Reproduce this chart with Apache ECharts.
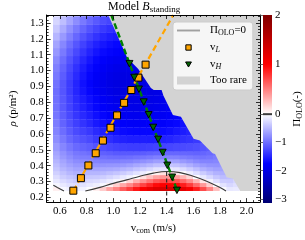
<!DOCTYPE html>
<html><head><meta charset="utf-8">
<script src="https://cdn.jsdelivr.net/npm/echarts@6/dist/echarts.min.js"></script>
<style>html,body{margin:0;padding:0;background:#fff}#c{width:305px;height:240px}</style>
</head><body><div id="c"></div>
<script>
// ---------- data ----------
const vcom = [0.575,0.625,0.675,0.725,0.775,0.825,0.875,0.925,0.975,1.025,1.075,1.125,1.175,1.225,1.275,1.325,1.375,1.425,1.475,1.525,1.575,1.625,1.675,1.725,1.775,1.825,1.875,1.925,1.975,2.025,2.075];
// row edges in rho (finer rows near the Pi=0 line)
const rhoEdges = [0.24,0.265,0.29,0.315,0.34,0.365,0.39,0.415,0.44,0.465,0.49,0.54,0.59,0.64,0.69,0.74,0.79,0.84,0.89,0.94,0.99,1.04,1.09,1.14,1.19,1.24,1.29,1.34,1.39];
// Pi_OLO per rho row (bottom to top); cells beyond a row's end are "too rare"
const piOLO = [
 [0.06,-0.05,-0.10,-0.13,-0.09,-0.03,0.06,0.20,0.36,0.49,0.64,0.77,0.91,1.03,1.15,1.26,1.32,1.32,1.28,1.19,1.06,0.89,0.70,0.49,0.25,-0.02,-0.16,-0.14,-0.01],
 [-0.06,-0.15,-0.21,-0.24,-0.20,-0.15,-0.11,-0.05,0.06,0.19,0.34,0.47,0.61,0.73,0.85,0.96,1.02,1.02,0.98,0.89,0.76,0.59,0.40,0.19,-0.03,-0.19,-0.27,-0.22],
 [-0.16,-0.25,-0.31,-0.35,-0.31,-0.26,-0.24,-0.19,-0.13,-0.06,0.04,0.17,0.31,0.43,0.55,0.66,0.72,0.72,0.68,0.59,0.46,0.29,0.10,-0.08,-0.22,-0.34,-0.36,-0.29],
 [-0.24,-0.34,-0.40,-0.44,-0.42,-0.38,-0.37,-0.34,-0.29,-0.23,-0.16,-0.09,0.00,0.12,0.25,0.36,0.42,0.42,0.38,0.29,0.16,-0.01,-0.15,-0.27,-0.39,-0.46,-0.44],
 [-0.32,-0.42,-0.49,-0.54,-0.52,-0.50,-0.50,-0.48,-0.44,-0.40,-0.35,-0.28,-0.20,-0.13,-0.04,0.06,0.12,0.12,0.08,-0.01,-0.12,-0.23,-0.35,-0.45,-0.53,-0.55],
 [-0.39,-0.50,-0.57,-0.63,-0.62,-0.60,-0.62,-0.61,-0.59,-0.57,-0.52,-0.48,-0.41,-0.35,-0.27,-0.20,-0.16,-0.16,-0.18,-0.25,-0.34,-0.44,-0.54,-0.61,-0.65,-0.64],
 [-0.45,-0.57,-0.65,-0.71,-0.71,-0.71,-0.74,-0.74,-0.73,-0.72,-0.70,-0.66,-0.61,-0.56,-0.50,-0.44,-0.40,-0.40,-0.42,-0.48,-0.56,-0.64,-0.70,-0.74,-0.75,-0.71],
 [-0.51,-0.63,-0.72,-0.79,-0.80,-0.81,-0.85,-0.87,-0.87,-0.87,-0.85,-0.84,-0.80,-0.76,-0.72,-0.67,-0.64,-0.64,-0.65,-0.70,-0.75,-0.81,-0.85,-0.85,-0.83],
 [-0.57,-0.70,-0.79,-0.87,-0.89,-0.90,-0.95,-0.98,-1.00,-1.01,-1.01,-0.99,-0.97,-0.95,-0.92,-0.88,-0.86,-0.85,-0.86,-0.89,-0.92,-0.95,-0.96,-0.94,-0.90],
 [-0.62,-0.75,-0.85,-0.93,-0.96,-0.99,-1.05,-1.09,-1.11,-1.14,-1.14,-1.14,-1.13,-1.12,-1.09,-1.07,-1.05,-1.04,-1.04,-1.05,-1.06,-1.07,-1.06,-1.02,-0.97],
 [-0.69,-0.83,-0.94,-1.03,-1.07,-1.11,-1.18,-1.23,-1.27,-1.30,-1.32,-1.33,-1.33,-1.33,-1.32,-1.30,-1.29,-1.27,-1.25,-1.24,-1.23,-1.21,-1.17,-1.12],
 [-0.77,-0.92,-1.05,-1.14,-1.19,-1.25,-1.34,-1.40,-1.44,-1.49,-1.52,-1.54,-1.54,-1.54,-1.55,-1.54,-1.52,-1.50,-1.46,-1.43,-1.40,-1.36,-1.30],
 [-0.84,-1.00,-1.13,-1.24,-1.31,-1.37,-1.46,-1.54,-1.60,-1.65,-1.68,-1.70,-1.71,-1.71,-1.71,-1.69,-1.68,-1.65,-1.60,-1.56,-1.51],
 [-0.90,-1.07,-1.20,-1.32,-1.40,-1.48,-1.58,-1.65,-1.72,-1.77,-1.80,-1.82,-1.83,-1.83,-1.82,-1.81,-1.78,-1.75,-1.70,-1.65,-1.60],
 [-0.94,-1.11,-1.25,-1.38,-1.47,-1.55,-1.65,-1.73,-1.80,-1.85,-1.89,-1.90,-1.91,-1.91,-1.91,-1.88,-1.86,-1.82,-1.77,-1.71],
 [-0.97,-1.14,-1.29,-1.42,-1.52,-1.62,-1.72,-1.80,-1.86,-1.91,-1.95,-1.96,-1.97,-1.96,-1.95,-1.94,-1.90,-1.86],
 [-0.98,-1.15,-1.31,-1.45,-1.55,-1.65,-1.75,-1.84,-1.90,-1.95,-1.99,-2.00,-2.00,-1.99,-1.98,-1.96,-1.93,-1.88],
 [-0.99,-1.17,-1.34,-1.49,-1.61,-1.72,-1.82,-1.91,-1.97,-2.02,-2.05,-2.06,-2.06,-2.04,-2.02,-2.00,-1.96],
 [-0.96,-1.16,-1.34,-1.50,-1.64,-1.76,-1.86,-1.94,-2.00,-2.04,-2.06,-2.06,-2.05,-2.03,-2.01],
 [-0.92,-1.12,-1.30,-1.46,-1.60,-1.72,-1.82,-1.90,-1.96,-2.00,-2.02,-2.02,-2.01,-1.99],
 [-0.87,-1.07,-1.25,-1.41,-1.55,-1.67,-1.77,-1.85,-1.91,-1.95,-1.97,-1.97,-1.96,-1.94],
 [-0.80,-1.00,-1.18,-1.34,-1.48,-1.60,-1.70,-1.78,-1.84,-1.88,-1.90,-1.90,-1.89],
 [-0.71,-0.91,-1.09,-1.25,-1.39,-1.51,-1.61,-1.69,-1.75,-1.79,-1.81],
 [-0.62,-0.82,-1.00,-1.16,-1.30,-1.42,-1.52,-1.60,-1.66,-1.70,-1.72],
 [-0.50,-0.70,-0.88,-1.04,-1.18,-1.30,-1.40,-1.48,-1.54,-1.58],
 [-0.38,-0.58,-0.76,-0.92,-1.06,-1.18,-1.28,-1.36,-1.42,-1.46],
 [-0.28,-0.45,-0.62,-0.78,-0.92,-1.04,-1.14,-1.22,-1.28],
 [-0.15,-0.32,-0.48,-0.63,-0.77,-0.89,-0.99,-1.07,-1.12]
];
const rareV   = [0.962,1.057,1.104,1.187,1.282,1.303,1.362,1.376,1.447,1.507,1.602,1.649,1.744,1.763,1.850,1.898,1.952,2.1,2.1];
const rareRho = [1.35,1.171,1.080,1.010,0.889,0.877,0.877,0.840,0.720,0.709,0.569,0.558,0.478,0.474,0.327,0.317,0.240,0.240,1.35];
const vL   = [0.700,0.757,0.813,0.868,0.922,0.979,1.028,1.081,1.135,1.188,1.242];
const rhoL = [0.242,0.321,0.401,0.478,0.558,0.639,0.717,0.796,0.877,0.955,1.037];
const vH   = [1.121,1.157,1.192,1.228,1.265,1.299,1.336,1.370,1.405,1.441,1.477];
const rhoH = [1.043,0.956,0.882,0.801,0.721,0.641,0.566,0.483,0.402,0.327,0.244];
const fitLV = [0.70,1.45], fitLRho = [0.24,1.35];
const fitHV = [0.985,1.48], fitHRho = [1.35,0.24];
const zeroV   = [0.79,0.9,1.0,1.1,1.2,1.3,1.4,1.5,1.6,1.7,1.8,1.845];
const zeroRho = [0.24,0.263,0.288,0.31,0.333,0.353,0.363,0.356,0.333,0.302,0.262,0.24];
const zeroLV = [0.55,0.58,0.63], zeroLRho = [0.276,0.262,0.24];
const markV = [1.4,1.4], markRho = [0.17,0.36];
const xTicks = [0.6,0.8,1.0,1.2,1.4,1.6,1.8,2.0];
const yTicks = [0.2,0.3,0.4,0.5,0.6,0.7,0.8,0.9,1.0,1.1,1.2,1.3];
const cbarTicks = [-3,-2,-1,0,1,2];

// ---------- styling helpers ----------
const FONT = 'Liberation Serif';
const VMIN = -3.5, VMAX = 2, CB_LOW = -3.14;
function norm(v){ return v < 0 ? 0.5 + 0.5 * v / (-VMIN) : 0.5 + 0.5 * v / VMAX; }
function seismic(n){
  n = Math.max(0, Math.min(1, n)); let r, g, b;
  if (n < 0.25) { r = 0; g = 0; b = 0.3 + 0.7 * n / 0.25; }
  else if (n < 0.5) { const t = (n - 0.25) / 0.25; r = t; g = t; b = 1; }
  else if (n < 0.75) { const t = (n - 0.5) / 0.25; r = 1; g = 1 - t; b = 1 - t; }
  else { const t = (n - 0.75) / 0.25; r = 1 - 0.5 * t; g = 0; b = 0; }
  return 'rgb(' + Math.round(r*255) + ',' + Math.round(g*255) + ',' + Math.round(b*255) + ')';
}
const colorOf = v => seismic(norm(v));
const cmap = []; for (let k = 0; k <= 55; k++) cmap.push(colorOf(VMIN + k * 0.1));
const CB_NEG = 28.33, CB_POS = 49.65;
const cbPos = v => v < 0 ? v * CB_NEG : v * CB_POS;
const PMIN = cbPos(CB_LOW), PMAX = cbPos(VMAX);
const cbStops = [];
for (let v = CB_LOW; v <= VMAX + 1e-9; v += 0.05) cbStops.push({offset: (cbPos(v) - PMIN) / (PMAX - PMIN), color: colorOf(v)});
const xMinor = [], yMinor = [];
for (let k = 11; k <= 41; k++) { if (k % 4 !== 0) xMinor.push(k * 0.05); }
for (let k = 9; k <= 67; k++) { if (k % 5 !== 0) yMinor.push(k * 0.02); }

const cells = [];
piOLO.forEach((row, j) => row.forEach((val, i) => cells.push([vcom[i], rhoEdges[j], rhoEdges[j + 1], val])));
const halfV = (vcom[1] - vcom[0]) / 2;
const pts = (xs, ys) => xs.map((x, i) => [x, ys[i]]);

const black = '#000';
const sub = {fontSize: 8, lineHeight: 8, padding: [5,0,0,0], fontFamily: FONT, color: black};
const subI = Object.assign({}, sub, {fontStyle: 'italic'});
const nrm = {fontSize: 11, lineHeight: 13, fontFamily: FONT, color: black};
const ita = Object.assign({}, nrm, {fontStyle: 'italic'});

function frameAxis(base) {
  return Object.assign({type: 'value', z: 10, splitLine: {show: false},
    axisLine: {show: true, onZero: false, lineStyle: {color: black, width: 1}},
    axisLabel: {show: false}}, base);
}
const tick = (vals, len) => ({show: true, inside: true, length: len, customValues: vals, lineStyle: {color: black, width: 0.8}});

const chart = echarts.init(document.getElementById('c'), null, {renderer: 'canvas'});
chart.setOption({
  animation: false,
  textStyle: {fontFamily: FONT, color: black},
  title: {text: '{n|Model }{i|B}{s|standing}', left: 108, top: 0, padding: 0,
    textStyle: {fontWeight: 'normal', rich: {
      n: {fontSize: 12, lineHeight: 14, fontFamily: FONT, color: black},
      i: {fontSize: 12, lineHeight: 14, fontStyle: 'italic', fontFamily: FONT, color: black},
      s: {fontSize: 9, lineHeight: 9, padding: [5,0,0,0], fontFamily: FONT, color: black}}}},
  grid: [{left: 35, right: 45, top: 15, bottom: 29}, {left: 263, top: 15, width: 11, height: 188}],
  legend: {
    orient: 'vertical', left: 173, top: 22, padding: [2,6,4,4], itemGap: 4,
    itemWidth: 23, itemHeight: 8, selectedMode: false,
    backgroundColor: 'rgba(255,255,255,0.8)', borderColor: '#cccccc', borderWidth: 1, borderRadius: 3,
    textStyle: {fontSize: 11, fontFamily: FONT, color: black, padding: [0,0,0,5], rich: {n: nrm, s: sub, si: subI}},
    formatter: name => ({'Π_OLO=0': '{n|Π}{s|OLO}{n|=0}', 'v_L': '{n|v}{si|L}', 'v_H': '{n|v}{si|H}', 'Too rare': '{n|Too rare}'})[name],
    data: [
      {name: 'Π_OLO=0', icon: 'path://M0,0H24V2H0Z', itemStyle: {color: '#a0a0a0', borderWidth: 0}},
      {name: 'v_L', icon: 'path://M-2.5,-2.5M0,0H10V10H0ZM12.5,12.5', itemStyle: {color: '#ffa500', borderColor: black, borderWidth: 1}},
      {name: 'v_H', icon: 'path://M-2.5,-2.5M0,0H10L5,8.7ZM12.5,11.2', itemStyle: {color: '#006400', borderColor: black, borderWidth: 1}},
      {name: 'Too rare', icon: 'rect', itemStyle: {color: '#d3d3d3', borderWidth: 0}}
    ]
  },
  visualMap: {type: 'continuous', show: false, seriesIndex: 0, dimension: 3, min: VMIN, max: VMAX, inRange: {color: cmap}},
  xAxis: [
    frameAxis({gridIndex: 0, position: 'bottom', min: 0.5, max: 2.1, axisTick: tick(xTicks, 4),
      axisLabel: {show: true, customValues: xTicks, formatter: v => v.toFixed(1), margin: 4, fontSize: 11, fontFamily: FONT, color: black},
      name: '{n|v}{s|com}{n| (m/s)}', nameLocation: 'middle', nameGap: 15,
      nameTextStyle: {rich: {n: nrm, s: sub}}}),
    frameAxis({gridIndex: 0, position: 'top', min: 0.5, max: 2.1, axisTick: tick(xTicks, 4)}),
    frameAxis({gridIndex: 0, position: 'bottom', min: 0.5, max: 2.1, axisLine: {show: false, onZero: false}, axisTick: tick(xMinor, 2)}),
    frameAxis({gridIndex: 0, position: 'top', min: 0.5, max: 2.1, axisLine: {show: false, onZero: false}, axisTick: tick(xMinor, 2)}),
    {type: 'value', gridIndex: 1, min: 0, max: 1, show: false}
  ],
  yAxis: [
    frameAxis({gridIndex: 0, position: 'left', min: 0.17, max: 1.35, axisTick: tick(yTicks, 4),
      axisLabel: {show: true, customValues: yTicks, formatter: v => v.toFixed(1), margin: 3, fontSize: 11, fontFamily: FONT, color: black},
      name: '{i|ρ}{n| (p/m²)}', nameLocation: 'middle', nameRotate: 90, nameGap: 21,
      nameTextStyle: {rich: {n: nrm, i: ita}}}),
    frameAxis({gridIndex: 0, position: 'right', min: 0.17, max: 1.35, axisTick: tick(yTicks, 4)}),
    frameAxis({gridIndex: 0, position: 'left', min: 0.17, max: 1.35, axisLine: {show: false, onZero: false}, axisTick: tick(yMinor, 2)}),
    frameAxis({gridIndex: 0, position: 'right', min: 0.17, max: 1.35, axisLine: {show: false, onZero: false}, axisTick: tick(yMinor, 2)}),
    {type: 'value', gridIndex: 1, position: 'right', min: PMIN, max: PMAX, z: 10, splitLine: {show: false},
      axisLine: {show: false},
      axisTick: {show: true, inside: true, length: 3, customValues: cbarTicks.map(cbPos), lineStyle: {color: '#444', width: 0.8}},
      axisLabel: {show: true, customValues: cbarTicks.map(cbPos), margin: 3, fontSize: 11, fontFamily: FONT, color: black,
        formatter: p => { const v = Math.round(p < 0 ? p / CB_NEG : p / CB_POS); return v < 0 ? '\u2212' + (-v) : String(v); }},
      name: '{n|Π}{s|OLO}{n|(-)}', nameLocation: 'middle', nameRotate: 90, nameGap: 19,
      nameTextStyle: {rich: {n: nrm, s: sub}}}
  ],
  series: [
    {type: 'custom', name: 'field', xAxisIndex: 0, yAxisIndex: 0, clip: true, silent: true, z: 1,
      data: cells,
      renderItem: (params, api) => {
        const v = api.value(0);
        const p0 = api.coord([v - halfV, api.value(2)]);
        const p1 = api.coord([v + halfV, api.value(1)]);
        return {type: 'rect', shape: {x: p0[0] - 0.3, y: p0[1] - 0.3, width: p1[0] - p0[0] + 0.6, height: p1[1] - p0[1] + 0.3},
          style: {fill: api.visual('color')}};
      }},
    {type: 'custom', name: 'Too rare', xAxisIndex: 0, yAxisIndex: 0, clip: true, silent: true, z: 2,
      itemStyle: {color: '#d3d3d3'},
      data: pts(rareV, rareRho),
      renderItem: (params, api) => {
        if (params.dataIndex !== 0) return null;
        return {type: 'polygon', shape: {points: pts(rareV, rareRho).map(p => api.coord(p))}, style: {fill: '#d3d3d3'}};
      }},
    {type: 'line', name: 'Π_OLO=0', data: pts(zeroV, zeroRho), smooth: 0.4, symbol: 'none', silent: true, z: 3,
      lineStyle: {color: '#3a3a3a', width: 1.1}, itemStyle: {color: '#a0a0a0'}},
    {type: 'line', name: 'Π_OLO=0', data: pts(zeroLV, zeroLRho), smooth: 0.3, symbol: 'none', silent: true, z: 3,
      lineStyle: {color: '#3a3a3a', width: 1.1}, itemStyle: {color: '#a0a0a0'}},
    {type: 'line', name: 'mark', data: pts(markV, markRho), symbol: 'none', silent: true, z: 3,
      lineStyle: {color: '#222', width: 1.1, type: [4, 2.5]}},
    {type: 'line', name: 'fitL', data: pts(fitLV, fitLRho), symbol: 'none', silent: true, z: 4,
      lineStyle: {color: '#ffa500', width: 2.2, type: [6, 3.5]}},
    {type: 'line', name: 'fitH', data: pts(fitHV, fitHRho), symbol: 'none', silent: true, z: 4,
      lineStyle: {color: '#008000', width: 2.4, type: [6, 3]}},
    {type: 'scatter', name: 'v_L', data: pts(vL, rhoL), symbol: 'rect', symbolSize: 7, silent: true, z: 6,
      itemStyle: {color: '#ffa500', borderColor: black, borderWidth: 1, opacity: 1}},
    {type: 'scatter', name: 'v_H', data: pts(vH, rhoH), symbol: 'triangle', symbolRotate: 180, symbolSize: [7, 6.5], silent: true, z: 6,
      itemStyle: {color: '#006400', borderColor: black, borderWidth: 0.9, opacity: 1}},
    {type: 'custom', name: 'colorbar', xAxisIndex: 4, yAxisIndex: 4, silent: true, z: 1,
      data: [[0.5, 0]],
      renderItem: (params, api) => {
        const a = api.coord([0, PMAX]), b = api.coord([1, PMIN]), z = api.coord([0, 0]);
        return {type: 'group', children: [
          {type: 'rect', shape: {x: a[0], y: a[1], width: b[0] - a[0], height: b[1] - a[1]},
            style: {fill: new echarts.graphic.LinearGradient(0, 1, 0, 0, cbStops)}},
          {type: 'line', shape: {x1: a[0], y1: z[1], x2: b[0], y2: z[1]}, style: {stroke: '#3a3a3a', lineWidth: 2}}
        ]};
      }}
  ]
});
</script></body></html>
